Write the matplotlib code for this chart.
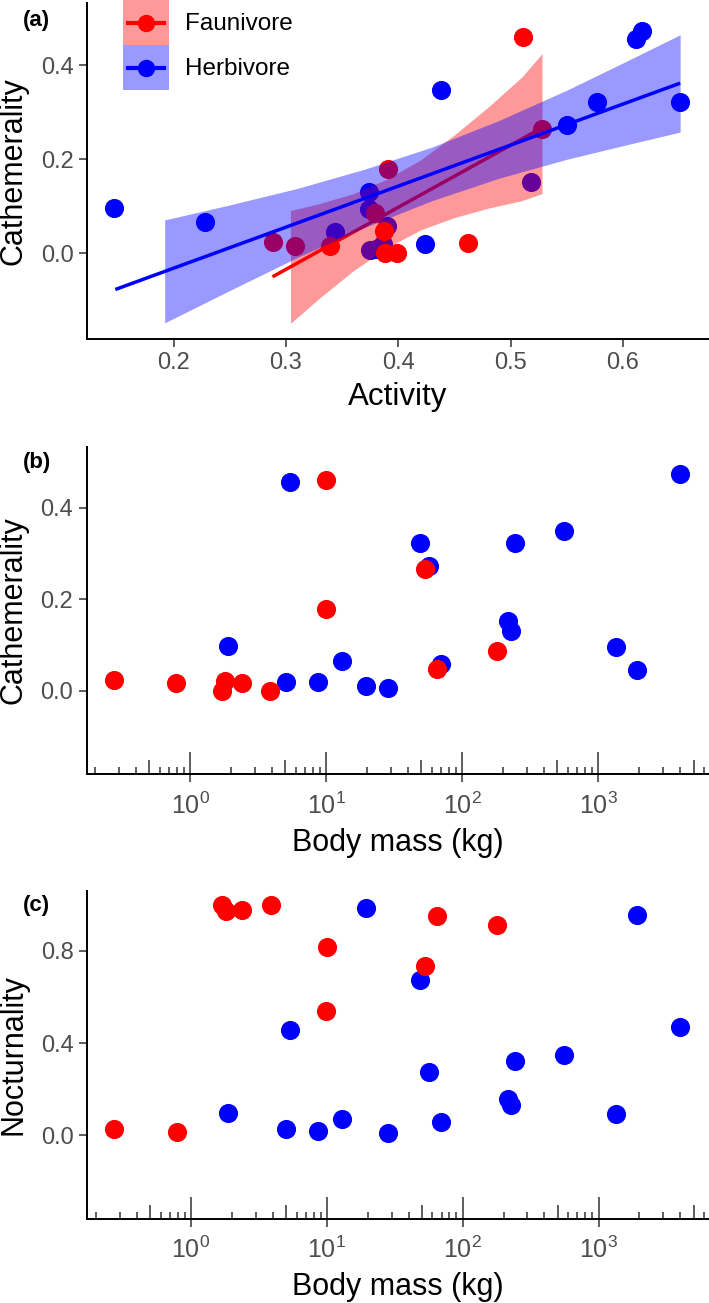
import matplotlib
matplotlib.use("Agg")
import matplotlib.pyplot as plt
from matplotlib.lines import Line2D
from matplotlib.patches import Rectangle
from matplotlib.legend_handler import HandlerBase
from matplotlib.ticker import LogLocator, NullFormatter, NullLocator, FormatStrFormatter

plt.rcParams['font.family'] = ['Liberation Sans', 'DejaVu Sans']
plt.rcParams['mathtext.fontset'] = 'custom'
plt.rcParams['mathtext.rm'] = 'Liberation Sans'
plt.rcParams['mathtext.it'] = 'Liberation Sans:italic'
plt.rcParams['mathtext.bf'] = 'Liberation Sans:bold'
plt.rcParams['mathtext.default'] = 'regular'

# ---- data ----
# herbivores
herb_mass = [1.89, 5.05, 5.41, 8.65, 13.0, 19.5, 28.2, 48.6, 56.7, 69.7,
             217, 226, 244, 554, 1338, 1920, 4010]
herb_activity = [0.147, 0.424, 0.612, 0.386, 0.228, 0.380, 0.375, 0.577, 0.550, 0.390,
                 0.518, 0.374, 0.651, 0.438, 0.374, 0.344, 0.617]
herb_cath = [0.097, 0.020, 0.457, 0.020, 0.066, 0.010, 0.006, 0.323, 0.273, 0.058,
             0.152, 0.131, 0.323, 0.348, 0.095, 0.046, 0.474]
herb_noct = [0.097, 0.025, 0.456, 0.019, 0.068, 0.987, 0.007, 0.673, 0.272, 0.058,
             0.155, 0.130, 0.323, 0.349, 0.091, 0.955, 0.470]

# faunivores
faun_mass = [0.273, 0.79, 1.70, 1.80, 2.40, 3.86, 9.9, 10.0, 53, 65, 179]
faun_activity = [0.288, 0.308, 0.388, 0.462, 0.339, 0.399, 0.511, 0.391, 0.528, 0.387, 0.379]
faun_cath = [0.023, 0.016, 0.000, 0.021, 0.016, 0.000, 0.460, 0.179, 0.265, 0.048, 0.086]
faun_noct = [0.025, 0.014, 0.999, 0.972, 0.980, 0.999, 0.538, 0.818, 0.734, 0.951, 0.912]

# fitted lines and confidence bands of panel (a)
herb_fit_x = [0.148, 0.651]
herb_fit_y = [-0.077, 0.362]
faun_fit_x = [0.288, 0.528]
faun_fit_y = [-0.050, 0.267]

herb_band_x = [0.192, 0.25, 0.31, 0.37, 0.43, 0.49, 0.55, 0.60, 0.651]
herb_band_lo = [-0.148, -0.079, -0.009, 0.055, 0.112, 0.160, 0.200, 0.229, 0.258]
herb_band_hi = [0.071, 0.103, 0.138, 0.179, 0.226, 0.283, 0.347, 0.405, 0.465]
faun_band_x = [0.304, 0.33, 0.36, 0.39, 0.42, 0.45, 0.48, 0.51, 0.528]
faun_band_lo = [-0.149, -0.095, -0.037, 0.012, 0.050, 0.076, 0.096, 0.112, 0.127]
faun_band_hi = [0.091, 0.106, 0.127, 0.158, 0.199, 0.252, 0.311, 0.375, 0.425]

groups = ['Faunivore', 'Herbivore']

RED = '#FF0000'
BLUE = '#0000FF'
TICKCOL = '#333333'
LABCOL = '#4D4D4D'
PT_SIZE = 190

W, H = 709, 1303
fig = plt.figure(figsize=(W / 100, H / 100), dpi=100)


def box(left, top, right, bottom):
    return [left / W, 1 - bottom / H, (right - left) / W, (bottom - top) / H]


def style(ax):
    for s in ['top', 'right']:
        ax.spines[s].set_visible(False)
    for s in ['left', 'bottom']:
        ax.spines[s].set_linewidth(1.4)
        ax.spines[s].set_color('black')
    ax.tick_params(axis='both', which='major', direction='out', length=5.5, width=1.1,
                   color=TICKCOL, labelcolor=LABCOL, labelsize=17, pad=4)


def log_axis(ax):
    ax.set_xscale('log')
    ax.set_xlim(0.1722, 6500)
    ax.set_xticks([1, 10, 100, 1000])
    ax.xaxis.set_minor_locator(LogLocator(base=10, subs=[2, 3, 4, 6, 7, 8, 9]))
    ax.xaxis.set_minor_formatter(NullFormatter())
    ax.tick_params(axis='x', which='major', direction='in', length=15.5, width=1.1,
                   labelsize=18, pad=13)
    ax.tick_params(axis='x', which='minor', direction='in', length=5, width=1.1,
                   color=TICKCOL)
    # outward part of decade ticks
    out = ax.secondary_xaxis('bottom')
    out.set_xticks([1, 10, 100, 1000])
    out.xaxis.set_minor_locator(NullLocator())
    out.tick_params(direction='out', length=6, width=1.1, color=TICKCOL, labelbottom=False)
    out.spines['bottom'].set_visible(False)
    # mid ticks at 5 x 10^k
    mid = ax.secondary_xaxis('bottom')
    mid.set_xticks([0.5, 5, 50, 500, 5000])
    mid.xaxis.set_minor_locator(NullLocator())
    mid.tick_params(direction='in', length=9.9, width=1.1, color=TICKCOL, labelbottom=False)
    mid.spines['bottom'].set_visible(False)


class KeyHandler(HandlerBase):
    # ribbon square with the line and point of geom_smooth + geom_point
    def create_artists(self, legend, orig_handle, xdescent, ydescent, width, height,
                       fontsize, trans):
        col = orig_handle.get_color()
        x0, y0 = -xdescent, -ydescent
        cy = y0 + height / 2
        rect = Rectangle((x0, y0), width, height, facecolor=col, alpha=0.4, lw=0,
                         transform=trans)
        line = Line2D([x0 + 0.11 * width, x0 + 0.89 * width], [cy, cy], color=col, lw=3,
                      transform=trans)
        dot = Line2D([x0 + width / 2], [cy], marker='o', ms=12.5, mew=0, color=col,
                     ls='none', transform=trans)
        return [rect, line, dot]


# ---------------- panel (a) ----------------
ax_a = fig.add_axes(box(87, 3, 709, 338.5))
style(ax_a)
ax_a.scatter(herb_activity, herb_cath, s=PT_SIZE, color=BLUE, lw=0, zorder=2)
ax_a.scatter(faun_activity, faun_cath, s=PT_SIZE, color=RED, lw=0, zorder=2)
ax_a.fill_between(faun_band_x, faun_band_lo, faun_band_hi, color=RED, alpha=0.4, lw=0, zorder=3)
ax_a.plot(faun_fit_x, faun_fit_y, color=RED, lw=2.5, zorder=4, solid_capstyle='butt')
ax_a.fill_between(herb_band_x, herb_band_lo, herb_band_hi, color=BLUE, alpha=0.4, lw=0, zorder=5)
ax_a.plot(herb_fit_x, herb_fit_y, color=BLUE, lw=2.5, zorder=6, solid_capstyle='butt')
ax_a.set_xlim(0.1228, 0.6767)
ax_a.set_ylim(-0.1813, 0.5326)
ax_a.set_xticks([0.2, 0.3, 0.4, 0.5, 0.6])
ax_a.set_yticks([0.0, 0.2, 0.4])
ax_a.xaxis.set_major_formatter(FormatStrFormatter('%.1f'))
ax_a.yaxis.set_major_formatter(FormatStrFormatter('%.1f'))
ax_a.set_xlabel('Activity', fontsize=22.5, va='baseline')
ax_a.xaxis.set_label_coords(0.5, -0.198)
ax_a.set_ylabel('Cathemerality', fontsize=22, va='center')
ax_a.yaxis.set_label_coords((14 - 87) / 622, 0.5)

handles = [Line2D([], [], color=RED), Line2D([], [], color=BLUE)]
leg_fs = 17.5
fs_px = leg_fs * 100 / 72
key_pt = 45 * 72 / 100
hh = (key_pt / leg_fs - 0.245) / 0.65
ax_a.legend(handles, groups, handler_map={Line2D: KeyHandler()},
            loc='upper left', bbox_to_anchor=(123 / W, 1.0), bbox_transform=fig.transFigure,
            frameon=False, fontsize=leg_fs, handlelength=45.7 / fs_px, handleheight=hh,
            labelspacing=0, borderpad=0, borderaxespad=0, handletextpad=16 / fs_px)

# ---------------- panel (b) ----------------
ax_b = fig.add_axes(box(86.5, 446.7, 709, 774.3))
style(ax_b)
ax_b.scatter(herb_mass, herb_cath, s=PT_SIZE, color=BLUE, lw=0, zorder=2)
ax_b.scatter(faun_mass, faun_cath, s=PT_SIZE, color=RED, lw=0, zorder=2)
log_axis(ax_b)
ax_b.set_ylim(-0.1827, 0.5333)
ax_b.set_yticks([0.0, 0.2, 0.4])
ax_b.yaxis.set_major_formatter(FormatStrFormatter('%.1f'))
ax_b.set_xlabel('Body mass (kg)', fontsize=22, va='baseline')
ax_b.xaxis.set_label_coords(0.5, -0.234)
ax_b.set_ylabel('Cathemerality', fontsize=22, va='center')
ax_b.yaxis.set_label_coords((14 - 86.5) / 622.5, 0.5)

# ---------------- panel (c) ----------------
ax_c = fig.add_axes(box(87, 890.7, 709, 1219))
style(ax_c)
ax_c.scatter(herb_mass, herb_noct, s=PT_SIZE, color=BLUE, lw=0, zorder=2)
ax_c.scatter(faun_mass, faun_noct, s=PT_SIZE, color=RED, lw=0, zorder=2)
log_axis(ax_c)
ax_c.set_ylim(-0.365, 1.062)
ax_c.set_yticks([0.0, 0.4, 0.8])
ax_c.yaxis.set_major_formatter(FormatStrFormatter('%.1f'))
ax_c.set_xlabel('Body mass (kg)', fontsize=22, va='baseline')
ax_c.xaxis.set_label_coords(0.5, -0.232)
ax_c.set_ylabel('Nocturnality', fontsize=22, va='center')
ax_c.yaxis.set_label_coords((14 - 87) / 622, 0.5)

# panel tags
for lab, top in [('(a)', 10), ('(b)', 452), ('(c)', 895)]:
    fig.text(23 / W, 1 - top / H, lab, fontsize=16, fontweight='bold', va='top', ha='left')

fig.savefig('out.png', dpi=100)
